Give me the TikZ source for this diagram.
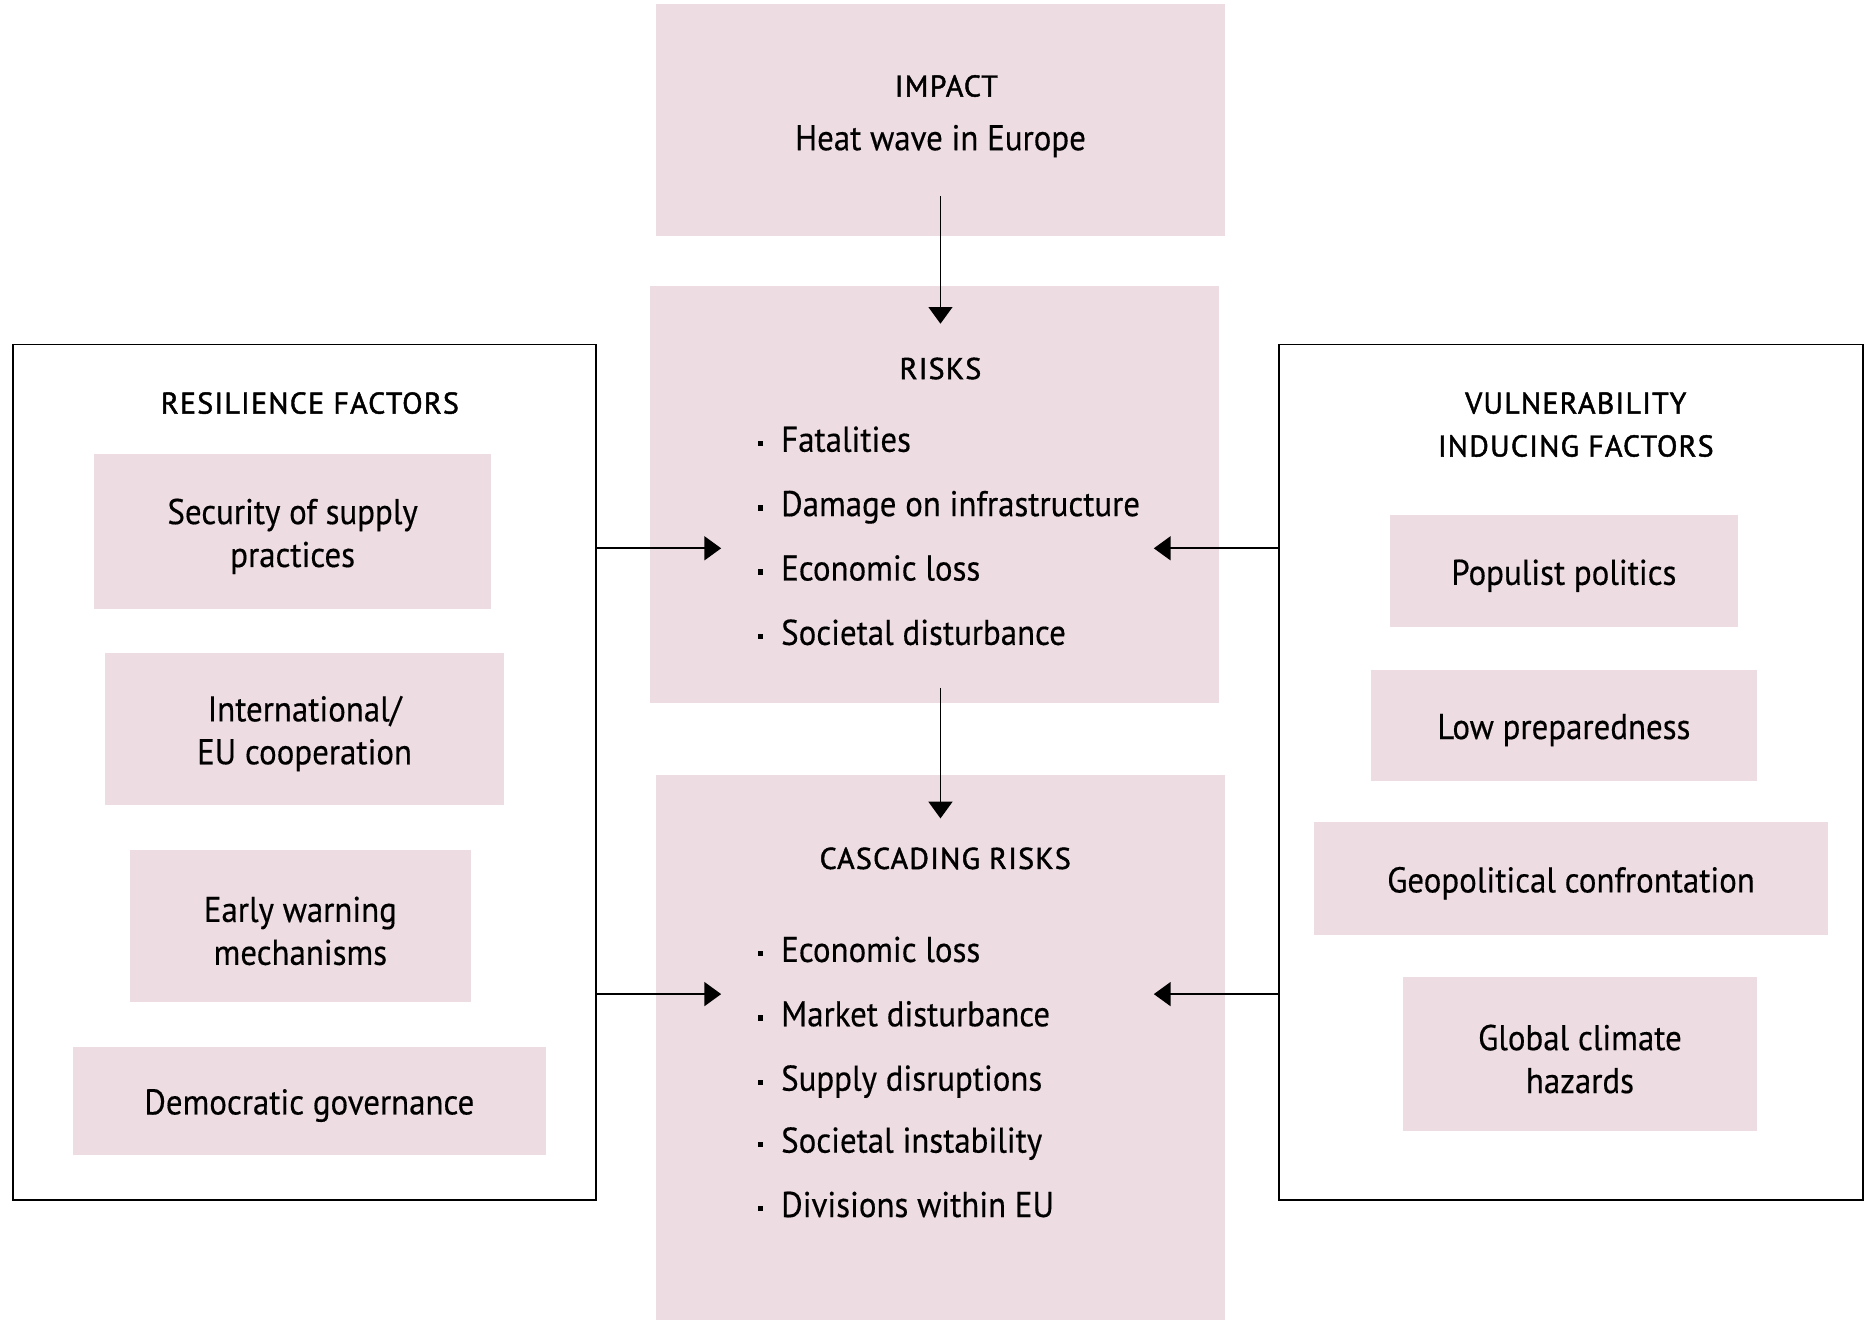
\documentclass[tikz,border=0pt]{standalone}
\usepackage{fontspec}
\setmainfont{PT Sans}
\usetikzlibrary{arrows.meta}
\definecolor{pinkbox}{RGB}{237,220,226}
\newcommand{\bodyfont}{\fontsize{15}{18}\selectfont\addfontfeatures{FakeStretch=0.92,FakeBold=0.4}}
\newcommand{\titlefont}{\fontsize{12.6}{18}\selectfont\addfontfeatures{FakeBold=1.5,LetterSpace=4}}
\tikzset{
  pbox/.style={fill=pinkbox,draw=none,inner sep=0pt},
  obox/.style={draw=black,line width=0.7pt,fill=none,inner sep=0pt},
  ttl/.style={inner sep=0pt,anchor=mid,align=center,font=\titlefont},
  txt/.style={inner sep=0pt,anchor=mid,font=\bodyfont},
  btxt/.style={inner sep=0pt,anchor=center,align=center,font=\bodyfont},
  itm/.style={inner sep=0pt,anchor=mid west,font=\bodyfont},
  dot/.style={fill=black,draw=none,inner sep=0pt,minimum size=2.3pt},
  arr/.style={line width=0.7pt,-{Triangle[length=7pt,width=10pt]}}
}
\newcommand{\itemlist}[4]{% name, x, y, text
  \node[dot] (#1d) at (#2,#3+2) {};
  \node[itm] (#1) at (#2+17,#3+4) {#4};}
\begin{document}
\begin{tikzpicture}[x=0.5pt,y=-0.5pt]
\useasboundingbox (0,0) rectangle (1568,1107.4);
% main boxes
\node[pbox,minimum width=478*0.5pt,minimum height=195*0.5pt] (impact) at (789,100.5) {};
\node[pbox,minimum width=478*0.5pt,minimum height=350*0.5pt] (risks) at (784,415) {};
\node[pbox,minimum width=478*0.5pt,minimum height=460*0.5pt] (casc) at (789,880) {};
\node[ttl] (impactT) at (794,76) {IMPACT};
\node[txt] (impactS) at (789,121) {Heat wave in Europe};
\node[ttl] (risksT) at (789,313) {RISKS};
\itemlist{ra}{638}{370}{Fatalities}
\itemlist{rb}{638}{424}{Damage on infrastructure}
\itemlist{rc}{638}{478}{Economic loss}
\itemlist{rd}{638}{532}{Societal disturbance}
\node[ttl] (cascT) at (793,724) {CASCADING RISKS};
\itemlist{ca}{638}{798}{Economic loss}
\itemlist{cb}{638}{852}{Market disturbance}
\itemlist{cc}{638}{906}{Supply disruptions}
\itemlist{cd}{638}{958}{Societal instability}
\itemlist{ce}{638}{1012}{Divisions within EU}
% outer boxes
\node[obox,minimum width=489*0.5pt,minimum height=718*0.5pt] (lbox) at (255.5,648) {};
\node[obox,minimum width=490*0.5pt,minimum height=718*0.5pt] (rbox) at (1318,648) {};
\node[ttl] (lT) at (260,342) {RESILIENCE FACTORS};
\node[ttl] (rT1) at (1322,342) {VULNERABILITY};
\node[ttl] (rT2) at (1322,378) {INDUCING FACTORS};
% left inner
\node[pbox,minimum width=333*0.5pt,minimum height=130*0.5pt] (l1) at (245.5,446) {};
\node[btxt] (l1t) at (245.5,450) {Security of supply\\practices};
\node[pbox,minimum width=335*0.5pt,minimum height=127*0.5pt] (l2) at (255.5,611.5) {};
\node[btxt] (l2t) at (255.5,615.5) {International/\\EU cooperation};
\node[pbox,minimum width=286*0.5pt,minimum height=128*0.5pt] (l3) at (252,777) {};
\node[btxt] (l3t) at (252,781) {Early warning\\mechanisms};
\node[pbox,minimum width=397*0.5pt,minimum height=91*0.5pt] (l4) at (259.5,923.5) {};
\node[btxt] (l4t) at (259.5,927.5) {Democratic governance};
% right inner
\node[pbox,minimum width=292*0.5pt,minimum height=94*0.5pt] (r1) at (1312,479) {};
\node[btxt] (r1t) at (1312,483) {Populist politics};
\node[pbox,minimum width=324*0.5pt,minimum height=93*0.5pt] (r2) at (1312,608.5) {};
\node[btxt] (r2t) at (1312,612.5) {Low preparedness};
\node[pbox,minimum width=432*0.5pt,minimum height=94*0.5pt] (r3) at (1318,737) {};
\node[btxt] (r3t) at (1318,741) {Geopolitical confrontation};
\node[pbox,minimum width=297*0.5pt,minimum height=129*0.5pt] (r4) at (1325.5,884.5) {};
\node[btxt] (r4t) at (1325.5,888.5) {Global climate\\hazards};
% arrows
\coordinate (a1) at (605,460);
\coordinate (a2) at (605,834);
\coordinate (b1) at (968,460);
\coordinate (b2) at (968,834);
\draw[arr] ([yshift=-64*0.5pt]impact.center) -- ([yshift=-32*0.5pt]risks.north -| impact.center);
\draw[arr] (impact.center |- 0,577) -- ([yshift=-37*0.5pt]casc.north);
\draw[arr] (lbox.east |- a1) -- (a1);
\draw[arr] (lbox.east |- a2) -- (a2);
\draw[arr] (rbox.west |- b1) -- (b1);
\draw[arr] (rbox.west |- b2) -- (b2);
\end{tikzpicture}
\end{document}
